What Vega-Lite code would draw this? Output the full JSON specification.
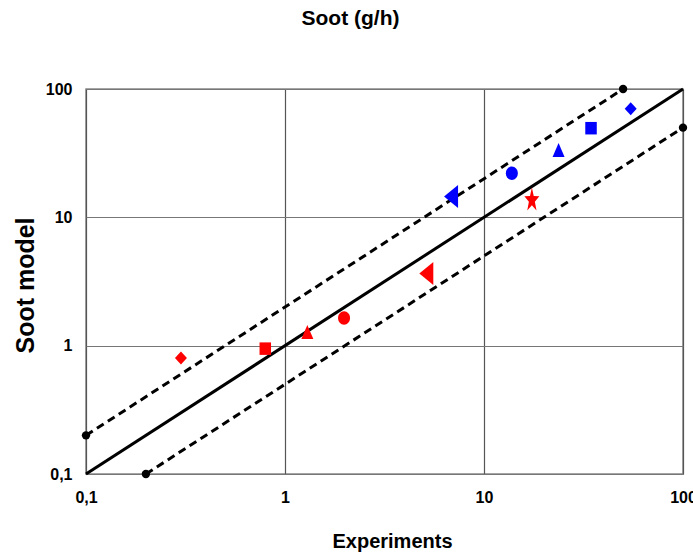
{
  "$schema": "https://vega.github.io/schema/vega-lite/v6.json",
  "width": 597,
  "height": 385,
  "autosize": {"type": "none"},
  "padding": {"left": 86, "top": 89, "right": 10, "bottom": 81},
  "background": "white",
  "config": {
    "font": "Liberation Sans",
    "view": {"stroke": "#888888", "strokeWidth": 1.5}
  },
  "title": {
    "text": "Soot (g/h)",
    "fontSize": 21,
    "fontWeight": "bold",
    "color": "black",
    "frame": "group",
    "anchor": "middle",
    "baseline": "alphabetic",
    "dx": -34,
    "offset": 35
  },
  "datasets": {
    "parity": [
      {"x": 0.1, "y": 0.1},
      {"x": 100, "y": 100}
    ],
    "band": [
      {"line": "upper", "x": 0.1, "y": 0.2},
      {"line": "upper", "x": 50, "y": 100},
      {"line": "lower", "x": 0.2, "y": 0.1},
      {"line": "lower", "x": 100, "y": 50}
    ],
    "points": [
      {"group": "A", "case": "1", "x": 0.3, "y": 0.8},
      {"group": "A", "case": "2", "x": 0.796, "y": 0.948},
      {"group": "A", "case": "3", "x": 1.295, "y": 1.279},
      {"group": "A", "case": "4", "x": 1.98, "y": 1.64},
      {"group": "A", "case": "5", "x": 5.13, "y": 3.65},
      {"group": "A", "case": "6", "x": 17.4, "y": 13.9},
      {"group": "B", "case": "5", "x": 6.83, "y": 14.5},
      {"group": "B", "case": "4", "x": 13.8, "y": 22.1},
      {"group": "B", "case": "3", "x": 23.7, "y": 33.5},
      {"group": "B", "case": "2", "x": 34.5, "y": 49.5},
      {"group": "B", "case": "1", "x": 54.6, "y": 70.3}
    ]
  },
  "encoding": {
    "x": {
      "field": "x",
      "type": "quantitative",
      "scale": {"type": "log", "domain": [0.1, 100], "nice": false},
      "axis": {
        "values": [0.1, 1, 10, 100],
        "labelExpr": "replace(format(datum.value, '~g'), '.', ',')",
        "ticks": false,
        "domain": false,
        "grid": true,
        "gridColor": "#555555",
        "gridWidth": 1.2,
        "gridOpacity": 1,
        "labelFontSize": 16,
        "labelFontWeight": "bold",
        "labelColor": "black",
        "labelPadding": 15,
        "labelFlush": false,
        "title": "Experiments",
        "titleFontSize": 20,
        "titleFontWeight": "bold",
        "titleColor": "black",
        "titleX": 306,
        "titleY": 73,
        "titleAlign": "center",
        "titleBaseline": "alphabetic"
      }
    },
    "y": {
      "field": "y",
      "type": "quantitative",
      "scale": {"type": "log", "domain": [0.1, 100], "nice": false},
      "axis": {
        "values": [0.1, 1, 10, 100],
        "labelExpr": "replace(format(datum.value, '~g'), '.', ',')",
        "ticks": false,
        "domain": false,
        "grid": true,
        "gridColor": "#777777",
        "gridWidth": 1.2,
        "gridOpacity": 1,
        "labelFontSize": 16,
        "labelFontWeight": "bold",
        "labelColor": "black",
        "labelPadding": 14,
        "labelFlush": false,
        "title": "Soot model",
        "titleFontSize": 25,
        "titleFontWeight": "bold",
        "titleColor": "black",
        "titleAngle": -90,
        "titleX": -61,
        "titleY": 196,
        "titleAlign": "center",
        "titleBaseline": "middle"
      }
    }
  },
  "layer": [
    {
      "data": {"name": "parity"},
      "mark": {"type": "line", "color": "black", "strokeWidth": 3},
      "encoding": {}
    },
    {
      "data": {"name": "band"},
      "mark": {"type": "line", "color": "black", "strokeWidth": 3, "strokeDash": [8, 5], "strokeCap": "butt"},
      "encoding": {"detail": {"field": "line", "type": "nominal"}}
    },
    {
      "data": {"name": "band"},
      "mark": {"type": "point", "shape": "circle", "filled": true, "color": "black", "size": 70, "opacity": 1},
      "encoding": {}
    },
    {
      "data": {"name": "points"},
      "mark": {"type": "point", "filled": true, "size": 4, "opacity": 1, "strokeWidth": 0},
      "encoding": {
        "color": {
          "field": "group",
          "type": "nominal",
          "scale": {"domain": ["A", "B"], "range": ["#ff0000", "#0000ff"]},
          "legend": null
        },
        "shape": {
          "field": "case",
          "type": "nominal",
          "scale": {
            "domain": ["1", "2", "3", "4", "5", "6"],
            "range": [
              "M0,-6.5L6,0L0,6.5L-6,0Z",
              "M-5.75,-6.25L5.75,-6.25L5.75,6.25L-5.75,6.25Z",
              "M0,-7L6,7L-6,7Z",
              "M-6,0A6,6.75,0,1,1,6,0A6,6.75,0,1,1,-6,0Z",
              "M-7,0L7,-11.5L7,11.5Z",
              "M0,-11.5L1.85,-2.91L7.48,-2.72L2.99,2.77L4.63,11.47L0,6.28L-4.63,11.47L-2.99,2.77L-7.48,-2.72L-1.85,-2.91Z"
            ]
          },
          "legend": null
        }
      }
    }
  ]
}
